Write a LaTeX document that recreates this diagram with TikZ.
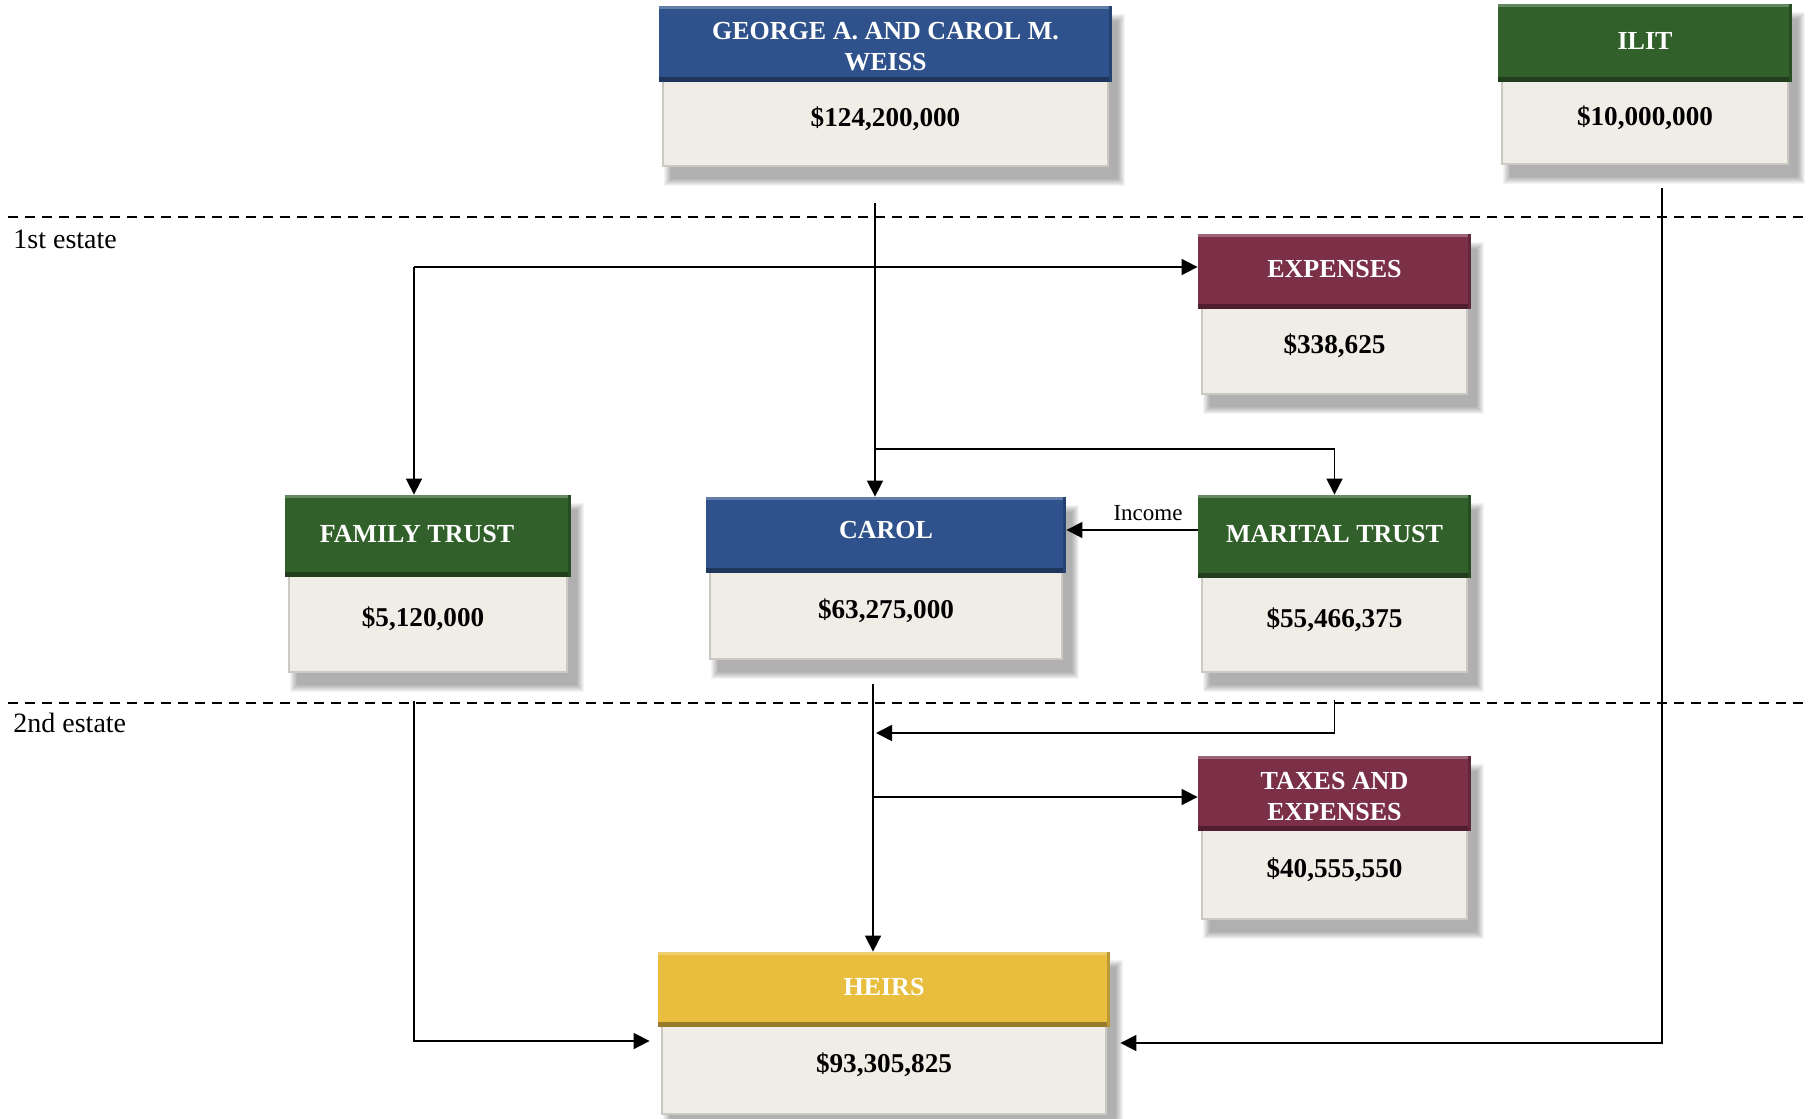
\documentclass[tikz,border=0pt]{standalone}
\usepackage{fontspec}
\setmainfont{Liberation Serif}
\usetikzlibrary{arrows.meta,calc,fit}
\definecolor{hblue}{HTML}{2F528C}
\definecolor{hgreen}{HTML}{31602A}
\definecolor{hred}{HTML}{7B3048}
\definecolor{hgold}{HTML}{E9BE3E}
\definecolor{bodyc}{HTML}{F0ECE6}
\definecolor{bodyedge}{HTML}{CCC8C2}
\tikzset{
 arr/.style={line width=0.8pt, -{Triangle[width=8pt,length=8pt]}},
 dline/.style={line width=0.8pt, dash pattern=on 5pt off 3.5pt},
 ttl/.style={text=white, font=\fontsize{13}{15.5}\selectfont\bfseries, align=center, inner sep=0pt},
 val/.style={text=black, font=\fontsize{13.6}{16}\selectfont\bfseries, inner sep=0pt},
 lbl/.style={font=\fontsize{14}{16}\selectfont, inner sep=0pt},
 inclbl/.style={font=\fontsize{11.5}{13}\selectfont, inner sep=0pt},
}
\def\tsh{-2}\def\txs{0}\def\vxs{0}
\newcommand\ebox[9]{%
 \foreach \i in {0,...,7}{\fill[black,opacity=0.045] (#2+5+\i,#3+8+\i) rectangle (#4+13-\i,#6+19-\i);}
 \fill[bodyc] (#2+3,#5) rectangle (#4-3,#6);
 \draw[bodyedge,line width=1pt] (#2+4,#5) -- (#2+4,#6-1) -- (#4-4,#6-1) -- (#4-4,#5);
 \fill[#7] (#2,#3) rectangle (#4,#5);
 \fill[#7!75!white] (#2,#3) rectangle (#4,#3+3);
 \fill[#7!65!black] (#2,#5-5) rectangle (#4,#5);
 \fill[#7!80!black] (#4-3,#3) rectangle (#4,#5);
 \node[fit={(#2,#3)(#4,#6)},inner sep=0pt] (#1) {};
 \node[ttl] (#1-t) at ({(#2+#4)/2+\txs},{(#3+#5)/2+\tsh}) {#8};
 \node[val] (#1-v) at ({(#2+#4)/2+\vxs},{(#5+#6)/2-6}) {#9};
}
\begin{document}
\begin{tikzpicture}[x=0.5pt,y=-0.5pt]
\useasboundingbox (0,0) rectangle (1818,1118);
\fill[white] (0,0) rectangle (1818,1118);
% estate separators
\coordinate (d1a) at (8,217); \coordinate (d1b) at (1808,217);
\coordinate (d2a) at (8,703); \coordinate (d2b) at (1808,703);
\draw[dline] (d1a) -- (d1b);
\draw[dline] (d2a) -- (d2b);
\node[lbl,anchor=base west] (est1) at (13,249) {1st estate};
\node[lbl,anchor=base west] (est2) at (13,732) {2nd estate};
% boxes
\def\tsh{3}
\ebox{george}{659}{6}{1112}{82}{167}{hblue}{GEORGE A. AND CAROL M.\\WEISS}{\$124,200,000}
\def\tsh{-2}
\ebox{ilit}{1498}{4}{1792}{82}{165}{hgreen}{ILIT}{\$10,000,000}
\ebox{expenses}{1198}{234}{1471}{309}{395}{hred}{EXPENSES}{\$338,625}
\def\txs{-11}\def\vxs{-5}
\ebox{family}{285}{495}{571}{577}{673}{hgreen}{FAMILY TRUST}{\$5,120,000}
\def\txs{0}\def\vxs{0}
\def\tsh{-5}
\ebox{carol}{706}{497}{1066}{573}{660}{hblue}{CAROL}{\$63,275,000}
\def\tsh{-2}
\ebox{marital}{1198}{495}{1471}{578}{673}{hgreen}{MARITAL TRUST}{\$55,466,375}
\def\tsh{3}
\ebox{taxes}{1198}{756}{1471}{831}{920}{hred}{TAXES AND\\EXPENSES}{\$40,555,550}
\def\tsh{-2}
\ebox{heirs}{658}{952}{1110}{1027}{1115}{hgold}{HEIRS}{\$93,305,825}
% connectors
\coordinate (gOut) at (875,203);
\draw[arr] (gOut) -- (gOut |- carol.north);
\coordinate (b1) at (875,449);
\draw[arr] (b1) -| (marital.north);
\coordinate (c1) at (414,267);
\draw[arr] (c1) -- (c1 -| expenses.west);
\draw[arr] (c1) -- (c1 |- family.north);
\coordinate (inc) at (1198,530);
\draw[arr] (inc) -- (inc -| carol.east) node[pos=0.38, above=4pt, inclbl] (incl) {Income};
\coordinate (cOut) at (873,684);
\draw[arr] (cOut) -- (cOut |- heirs.north);
\coordinate (mOut) at ($(marital.south)+(0,27)$);
\coordinate (j1) at (876,733);
\draw[arr] (mOut) |- (j1);
\coordinate (j2) at (873,797);
\draw[arr] (j2) -- (j2 -| taxes.west);
\coordinate (fOut) at (414,701);
\coordinate (hl) at (0,1041);
\draw[arr, shorten >=4pt] (fOut) |- (heirs.west |- hl);
\coordinate (iOut) at (1662,188);
\coordinate (hr) at (0,1043);
\draw[arr, shorten >=5pt] (iOut) |- (heirs.east |- hr);
\end{tikzpicture}
\end{document}
